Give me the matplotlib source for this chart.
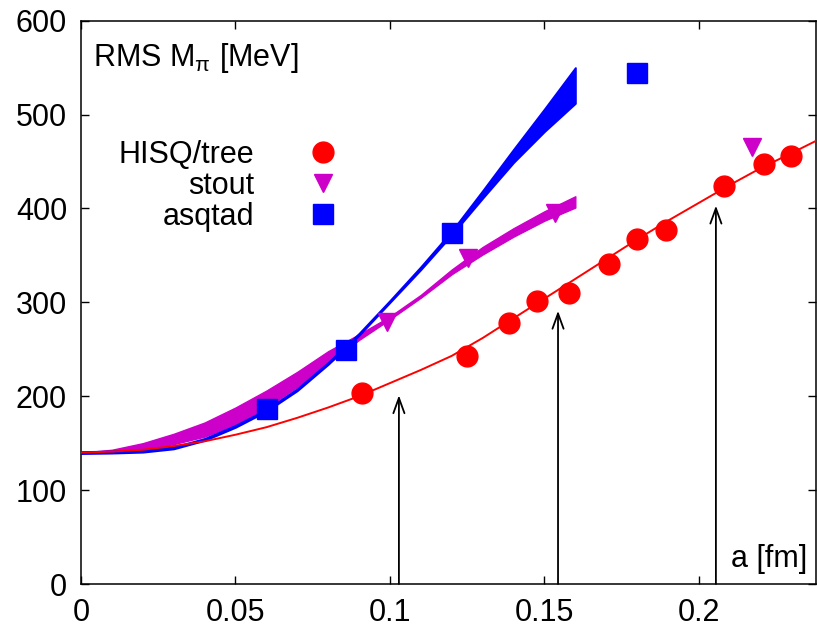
import matplotlib.pyplot as plt

plt.rcParams['font.family'] = ['Liberation Sans', 'DejaVu Sans']
plt.rcParams['mathtext.fontset'] = 'custom'
plt.rcParams['mathtext.rm'] = 'Liberation Sans'
plt.rcParams['mathtext.it'] = 'Liberation Sans'

# HISQ/tree data points (a [fm], RMS M_pi [MeV])
hisq_a = [0.0909, 0.1249, 0.1385, 0.1476, 0.1579, 0.1709, 0.1799, 0.1893, 0.2081, 0.2210, 0.2298]
hisq_m = [203, 243, 278, 301, 310, 341, 367, 377, 424, 447, 456]

# stout data points
stout_a = [0.0990, 0.1252, 0.1534, 0.2172]
stout_m = [279, 347, 395, 466]

# asqtad data points
asqtad_a = [0.0602, 0.0858, 0.1201, 0.1799]
asqtad_m = [186, 249, 374, 544]

# fit curve for HISQ/tree
hisq_fit_a = [0, 0.01, 0.02, 0.03, 0.04, 0.05, 0.06, 0.07, 0.08, 0.09, 0.10, 0.11, 0.12,
              0.13, 0.14, 0.15, 0.16, 0.17, 0.18, 0.19, 0.20, 0.21, 0.22, 0.23, 0.2379]
hisq_fit_m = [140, 141, 143, 147, 152, 159, 167, 177, 188, 200, 214, 228, 243,
              262, 283, 304, 325, 346, 367, 387, 406, 425, 443, 459, 472]

# stout fit band
stout_band_a = [0, 0.01, 0.02, 0.03, 0.04, 0.05, 0.06, 0.07, 0.08, 0.09, 0.10, 0.11, 0.12, 0.13, 0.14, 0.15, 0.16]
stout_band_hi = [140, 143, 150, 160, 172, 188, 206, 226, 248, 266, 285, 308, 335, 359, 379, 397, 413]
stout_band_lo = [140, 141, 144, 149, 157, 170, 188, 210, 235, 260, 282, 305, 330, 351, 370, 387, 401]

# asqtad fit band
asqtad_band_a = [0, 0.01, 0.02, 0.03, 0.04, 0.05, 0.06, 0.07, 0.08, 0.09, 0.10, 0.11, 0.12, 0.13, 0.14, 0.15, 0.16]
asqtad_band_hi = [141, 141.5, 142.5, 146, 155, 169, 186, 208, 236, 267, 302, 338, 376, 419, 463, 506, 550]
asqtad_band_lo = [139, 139.5, 140.5, 144, 153, 167, 184, 206, 234, 265, 300, 335, 372, 411, 449, 482, 512]

# arrows
arrow_a = [0.1029, 0.1544, 0.2055]
arrow_tip = [201, 291, 403]

xticks = [0, 0.05, 0.1, 0.15, 0.2]
xtick_labels = ['0', '0.05', '0.1', '0.15', '0.2']
yticks = [0, 100, 200, 300, 400, 500, 600]

red = '#ff0000'
mag = '#cc00c8'
blue = '#0000ff'
fs = 22

fig = plt.figure(figsize=(8.17, 6.31), dpi=100)
ax = fig.add_axes([81/817, 47/631, 735/817, 563.3/631])

ax.fill_between(stout_band_a, stout_band_lo, stout_band_hi, color=mag, lw=1.0, edgecolor=mag, zorder=2)
ax.fill_between(asqtad_band_a, asqtad_band_lo, asqtad_band_hi, color=blue, lw=1.4, edgecolor=blue, zorder=3)
ax.plot(hisq_fit_a, hisq_fit_m, color=red, lw=1.4, zorder=3)

ax.plot(hisq_a, hisq_m, ls='none', marker='o', ms=15, color=red, label='HISQ/tree', zorder=5)
ax.plot(stout_a, stout_m, ls='none', marker='v', ms=13, color=mag, label='stout', zorder=5)
ax.plot(asqtad_a, asqtad_m, ls='none', marker='s', ms=15, color=blue, label='asqtad', zorder=5)

for a, tip in zip(arrow_a, arrow_tip):
    ax.annotate('', xy=(a, tip), xytext=(a, 0),
                arrowprops=dict(arrowstyle='->,head_length=0.55,head_width=0.2',
                                lw=1.3, color='black', shrinkA=0, shrinkB=0,
                                mutation_scale=20), zorder=4)

ax.set_xlim(0, 0.2379)
ax.set_ylim(0, 600)
ax.set_xticks(xticks, xtick_labels)
ax.set_yticks(yticks)
ax.tick_params(direction='in', top=True, right=True, length=6, width=1,
               labelsize=fs, pad=10)
for s in ax.spines.values():
    s.set_linewidth(1.1)

ax.text(0.0163, 0.9196, 'RMS M$_{\\mathrm{π}}$ [MeV]', transform=ax.transAxes,
        fontsize=fs, va='baseline', ha='left')
ax.text(0.9878, 0.030, 'a [fm]', transform=ax.transAxes,
        fontsize=fs, va='baseline', ha='right')

ax.legend(loc='upper left', bbox_to_anchor=(0.051, 0.788), frameon=False,
          markerfirst=False, handlelength=1, handletextpad=1.75,
          labelspacing=0.03, fontsize=fs, borderaxespad=0, borderpad=0)

fig.savefig('out.png', dpi=100)
